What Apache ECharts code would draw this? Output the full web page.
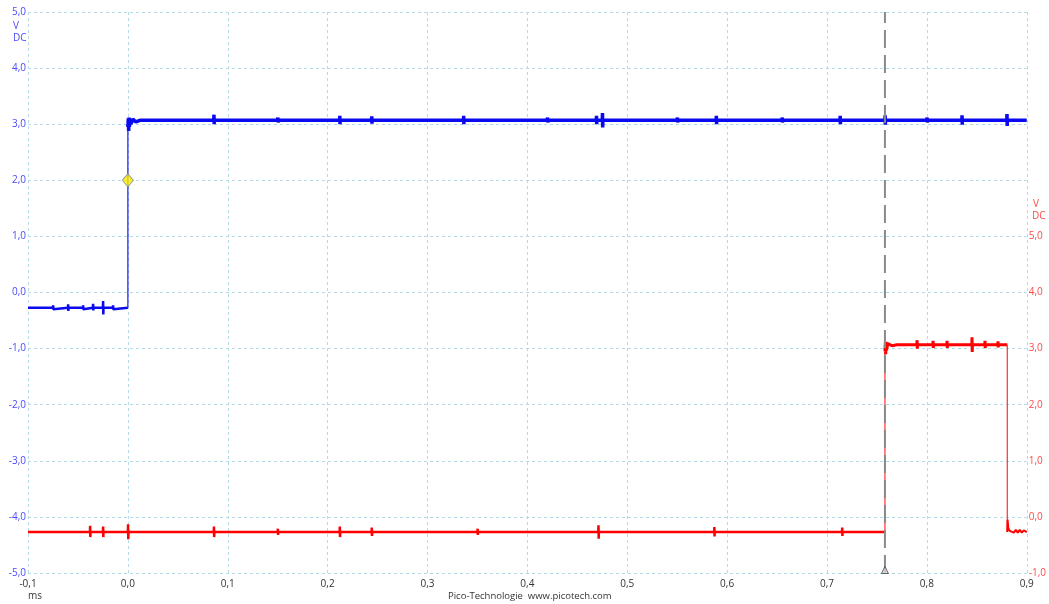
<!DOCTYPE html>
<html><head><meta charset="utf-8">
<script src="https://cdn.jsdelivr.net/npm/echarts@6/dist/echarts.min.js"></script>
<style>html,body{margin:0;padding:0;background:#fff}#c{width:1049px;height:604px}</style>
</head><body><div id="c"></div>
<script>
// Tick labels / axes
const xTicks = [-0.1,0,0.1,0.2,0.3,0.4,0.5,0.6,0.7,0.8,0.9];
const leftTicks = [-5,-4,-3,-2,-1,0,1,2,3,4,5];
const rightTicks = [-1,0,1,2,3,4,5];

// Channel A (blue, left axis, V) — time in ms
const blueLow = [[-0.1,-0.27],[-0.075,-0.27],[-0.0748,-0.23],[-0.0746,-0.3],[-0.0744,-0.27],[-0.06,-0.27],[-0.0598,-0.21],[-0.0596,-0.33],[-0.0594,-0.27],[-0.045,-0.27],[-0.0448,-0.23],[-0.0446,-0.3],[-0.0444,-0.27],[-0.035,-0.27],[-0.0348,-0.2],[-0.0346,-0.32],[-0.0344,-0.27],[-0.025,-0.27],[-0.0248,-0.15],[-0.0246,-0.39],[-0.0244,-0.27],[-0.015,-0.27],[-0.0148,-0.23],[-0.0146,-0.3],[-0.0144,-0.27],[0,-0.27]];
const blueEdge = [[0,-0.27],[0,2.95]];
const blueHigh = [[0,2.95],[0.0004,3.1],[0.0008,2.88],[0.0012,3.12],[0.0016,2.95],[0.002,3.1],[0.003,3.0],[0.005,3.09],[0.008,3.04],[0.012,3.07],[0.086,3.07],[0.0862,3.17],[0.0864,3.0],[0.0866,3.07],[0.15,3.07],[0.1502,3.12],[0.1504,3.03],[0.1506,3.07],[0.212,3.07],[0.2122,3.15],[0.2124,3.0],[0.2126,3.07],[0.244,3.07],[0.2442,3.14],[0.2444,3.01],[0.2446,3.07],[0.336,3.07],[0.3362,3.15],[0.3364,3.0],[0.3366,3.07],[0.42,3.07],[0.4202,3.12],[0.4204,3.03],[0.4206,3.07],[0.469,3.07],[0.4692,3.15],[0.4694,3.0],[0.4696,3.07],[0.475,3.07],[0.4752,3.2],[0.4754,2.94],[0.4756,3.07],[0.55,3.07],[0.5502,3.12],[0.5504,3.03],[0.5506,3.07],[0.589,3.07],[0.5892,3.15],[0.5894,3.0],[0.5896,3.07],[0.655,3.07],[0.6552,3.12],[0.6554,3.03],[0.6556,3.07],[0.713,3.07],[0.7132,3.15],[0.7134,3.0],[0.7136,3.07],[0.758,3.07],[0.7582,3.16],[0.7584,2.99],[0.7586,3.07],[0.8,3.07],[0.8002,3.12],[0.8004,3.03],[0.8006,3.07],[0.835,3.07],[0.8352,3.16],[0.8354,2.99],[0.8356,3.07],[0.88,3.07],[0.8802,3.18],[0.8804,2.97],[0.8806,3.07],[0.9,3.07]];

// Channel B (red, right axis, V)
const redLow = [[-0.1,-0.27],[-0.038,-0.27],[-0.0378,-0.16],[-0.0376,-0.36],[-0.0374,-0.27],[-0.025,-0.27],[-0.0248,-0.17],[-0.0246,-0.36],[-0.0244,-0.27],[0.0,-0.27],[0.0002,-0.13],[0.0004,-0.4],[0.0006,-0.27],[0.086,-0.27],[0.0862,-0.17],[0.0864,-0.36],[0.0866,-0.27],[0.15,-0.27],[0.1502,-0.21],[0.1504,-0.32],[0.1506,-0.27],[0.212,-0.27],[0.2122,-0.17],[0.2124,-0.36],[0.2126,-0.27],[0.244,-0.27],[0.2442,-0.19],[0.2444,-0.34],[0.2446,-0.27],[0.35,-0.27],[0.3502,-0.21],[0.3504,-0.32],[0.3506,-0.27],[0.471,-0.27],[0.4712,-0.15],[0.4714,-0.39],[0.4716,-0.27],[0.587,-0.27],[0.5872,-0.18],[0.5874,-0.35],[0.5876,-0.27],[0.715,-0.27],[0.7152,-0.19],[0.7154,-0.34],[0.7156,-0.27],[0.758,-0.27]];
const redEdgeUp = [[0.758,-0.27],[0.758,2.95]];
const redHigh = [[0.758,2.95],[0.7584,3.1],[0.7588,2.9],[0.7592,3.12],[0.7596,2.97],[0.761,3.09],[0.765,3.05],[0.77,3.07],[0.79,3.07],[0.7902,3.15],[0.7904,3.0],[0.7906,3.07],[0.806,3.07],[0.8062,3.14],[0.8064,3.01],[0.8066,3.07],[0.82,3.07],[0.8202,3.14],[0.8204,3.01],[0.8206,3.07],[0.845,3.07],[0.8452,3.2],[0.8454,2.94],[0.8456,3.07],[0.858,3.07],[0.8582,3.14],[0.8584,3.01],[0.8586,3.07],[0.871,3.07],[0.8712,3.13],[0.8714,3.02],[0.8716,3.07],[0.8805,3.07]];
const redEdgeDown = [[0.8805,3.07],[0.8805,-0.27]];
const redTail = [[0.8805,-0.27],[0.8808,-0.05],[0.8815,-0.2],[0.883,-0.25],[0.885,-0.22],[0.887,-0.28],[0.889,-0.23],[0.891,-0.28],[0.893,-0.23],[0.895,-0.28],[0.897,-0.24],[0.9,-0.27]];

// Markers
const triggerPoint = [0.0, 2.0];
const cursorTime = 0.758;

const fmt = v => (Math.round(v*10)/10).toFixed(1).replace('.', ',');
const gridColor = '#b5dbe6';
const FONT = 'Open Sans';

const chart = echarts.init(document.getElementById('c'), null, {renderer:'canvas'});
const lineS = (name, data, color, width, yIdx) => ({
  name, type:'line', data, yAxisIndex:yIdx, showSymbol:false, symbol:'none',
  lineStyle:{color, width, join:'bevel'}, animation:false, silent:true, z:3
});
chart.setOption({
  animation:false,
  backgroundColor:'#fff',
  grid:{left:28, right:20, top:12, bottom:31, containLabel:false},
  xAxis:{type:'value', min:-0.1, max:0.9, interval:0.1,
    axisLine:{show:false}, axisTick:{show:false},
    axisLabel:{formatter:fmt, color:'#333', fontSize:10, fontFamily:FONT, margin:6},
    splitLine:{show:true, lineStyle:{color:gridColor, type:[3,3], width:1}}},
  yAxis:[
    {type:'value', min:-5, max:5, interval:1, position:'left',
      axisLine:{show:false}, axisTick:{show:false},
      axisLabel:{formatter:fmt, color:'#4a4aff', fontSize:10, fontFamily:FONT, margin:2, verticalAlign:'bottom', padding:[0,0,-5,0]},
      splitLine:{show:true, lineStyle:{color:gridColor, type:[3,3], width:1}}},
    {type:'value', min:-1, max:9, interval:1, position:'right',
      axisLine:{show:false}, axisTick:{show:false},
      axisLabel:{formatter:v => v<=5 ? fmt(v) : '', color:'#ff4a4a', fontSize:10, fontFamily:FONT, margin:2},
      splitLine:{show:false}}
  ],
  graphic:[
    {type:'text', left:13, top:21, style:{text:'V', fill:'#4a4aff', font:'10px '+FONT}},
    {type:'text', left:13, top:33, style:{text:'DC', fill:'#4a4aff', font:'10px '+FONT}},
    {type:'text', left:1033, top:199, style:{text:'V', fill:'#ff4a4a', font:'10px '+FONT}},
    {type:'text', left:1032, top:211, style:{text:'DC', fill:'#ff4a4a', font:'10px '+FONT}},
    {type:'text', left:28, top:591, style:{text:'ms', fill:'#333', font:'10px '+FONT}},
    {type:'text', left:448, top:591, style:{text:'Pico-Technologie  www.picotech.com', fill:'#333', font:'9.5px '+FONT}}
  ],
  series:[
    lineS('redLow', redLow, '#ff0000', 2.5, 1),
    lineS('redEdgeUp', redEdgeUp, '#ff3030', 1.2, 1),
    lineS('redHigh', redHigh, '#ff0000', 3, 1),
    lineS('redEdgeDown', redEdgeDown, '#ff3030', 1.2, 1),
    lineS('redTail', redTail, '#ff0000', 2, 1),
    {type:'line', data:[[cursorTime,-5],[cursorTime,5]], yAxisIndex:0, showSymbol:false, symbol:'none', silent:true, z:4,
      lineStyle:{color:'#8a8a8a', width:2, type:[18,7]}},
    {type:'scatter', data:[[cursorTime,-5]], yAxisIndex:0, symbol:'triangle', symbolSize:[7,7], symbolOffset:[0,-3], silent:true, z:6,
      itemStyle:{color:'#d8d8d8', borderColor:'#444', borderWidth:1}},
    lineS('blueLow', blueLow, '#0a0af0', 2.5, 0),
    lineS('blueEdge', blueEdge, '#1a1ae8', 1.2, 0),
    lineS('blueHigh', blueHigh, '#0a0af0', 3.5, 0),
    {type:'scatter', data:[triggerPoint], yAxisIndex:0, symbol:'diamond', symbolSize:[11,13], silent:true, z:7,
      itemStyle:{color:'#ffee00', borderColor:'#888', borderWidth:1}}
  ]
});
</script></body></html>
